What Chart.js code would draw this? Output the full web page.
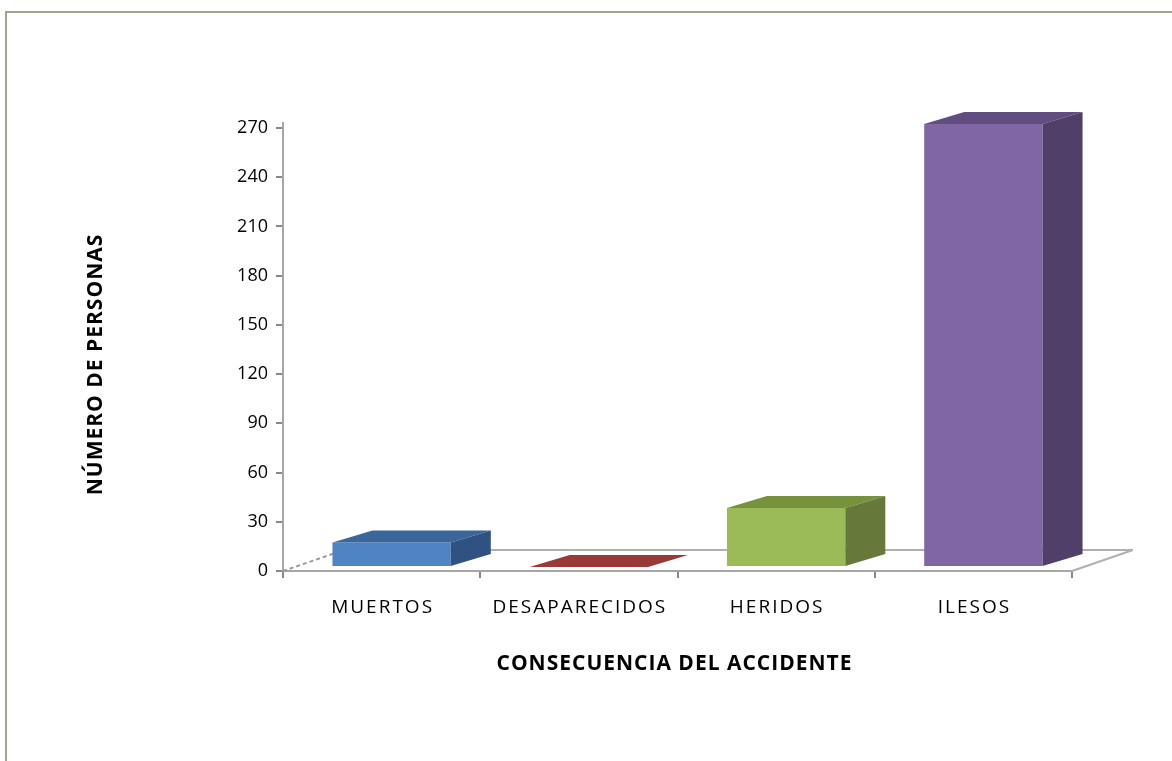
<!DOCTYPE html>
<html>
<head>
<meta charset="utf-8">
<script src="https://cdn.jsdelivr.net/npm/chart.js@4"></script>
<style>
   body { margin: 0; background: #fff; }
   #frame {
      position: absolute; left: 5px; top: 11px; right: -10px; bottom: -10px;
      border-left: 2px solid #a9a18b; border-top: 2px solid #a9a18b;
   }
   #chart { position: absolute; left: 0; top: 0; }
</style>
</head>
<body>
<div id="frame"></div>
<canvas id="chart" width="1172" height="761"></canvas>
<script>
const categories = ['MUERTOS', 'DESAPARECIDOS', 'HERIDOS', 'ILESOS'];
const personas = [15, 0, 36, 270];
const yMax = 270;
const yStep = 30;

const frontColors = ['#4f84c4', '#c0504d', '#9bbb59', '#8066a4'];
const topColors = ['#3b669c', '#973a38', '#76923c', '#624d80'];
const sideColors = ['#2f5282', '#7a2d2b', '#66793a', '#503f69'];

// fake 3d: depth of the bars and of the floor
const DX = 40, DY = -12;
const FLOOR_DX = 61, FLOOR_DY = -21;
const SHIFT_X = 10, SHIFT_Y = -4;

// category axis with the wide letter spacing of the original labels
class SpacedCategory extends Chart.CategoryScale {
   drawLabels(area) {
      this.ctx.save();
      this.ctx.letterSpacing = '2px';
      this.ctx.translate(1, 0);
      super.drawLabels(area);
      this.ctx.restore();
   }
   drawTitle() {
      this.ctx.save();
      this.ctx.letterSpacing = '1px';
      this.ctx.translate(-3, 0);
      super.drawTitle();
      this.ctx.restore();
   }
}
SpacedCategory.id = 'spacedCategory';
SpacedCategory.defaults = Chart.CategoryScale.defaults;

class ShiftedLinear extends Chart.LinearScale {
   drawTitle() {
      this.ctx.save();
      this.ctx.letterSpacing = '1px';
      this.ctx.translate(0, 15);
      super.drawTitle();
      this.ctx.restore();
   }
}
ShiftedLinear.id = 'shiftedLinear';
ShiftedLinear.defaults = Chart.LinearScale.defaults;

Chart.register(SpacedCategory, ShiftedLinear);

const bar3d = {
   id: 'bar3d',
   beforeDatasetsDraw(chart) {
      const { ctx, scales: { x, y } } = chart;
      const y0 = y.getPixelForValue(0);

      ctx.save();
      ctx.strokeStyle = '#a6a6a6';
      ctx.lineWidth = 2;
      ctx.beginPath();
      ctx.moveTo(x.left, y.top);
      ctx.lineTo(x.left, y.top - 6);
      ctx.stroke();
      ctx.strokeStyle = '#b0b0b0';
      ctx.beginPath();
      ctx.moveTo(x.left + FLOOR_DX, y0 + FLOOR_DY);
      ctx.lineTo(x.right + FLOOR_DX, y0 + FLOOR_DY);
      ctx.moveTo(x.right, y0);
      ctx.lineTo(x.right + FLOOR_DX, y0 + FLOOR_DY);
      ctx.stroke();
      ctx.strokeStyle = '#999';
      ctx.setLineDash([4, 3]);
      ctx.beginPath();
      ctx.moveTo(x.left, y0);
      ctx.lineTo(x.left + FLOOR_DX, y0 + FLOOR_DY);
      ctx.stroke();
      ctx.restore();

      ctx.save();
      ctx.translate(SHIFT_X, SHIFT_Y);
   },
   afterDatasetsDraw(chart) {
      const ctx = chart.ctx;
      chart.getDatasetMeta(0).data.forEach((bar, i) => {
         const l = bar.x - bar.width / 2;
         const r = bar.x + bar.width / 2;
         const t = bar.y;
         const b = bar.base;

         ctx.fillStyle = topColors[i];
         ctx.beginPath();
         ctx.moveTo(l, t);
         ctx.lineTo(l + DX, t + DY);
         ctx.lineTo(r + DX, t + DY);
         ctx.lineTo(r, t);
         ctx.closePath();
         ctx.fill();

         ctx.fillStyle = sideColors[i];
         ctx.beginPath();
         ctx.moveTo(r, t);
         ctx.lineTo(r + DX, t + DY);
         ctx.lineTo(r + DX, b + DY);
         ctx.lineTo(r, b);
         ctx.closePath();
         ctx.fill();
      });
      ctx.restore();
   }
};

const font = 'Open Sans';

new Chart(document.getElementById('chart').getContext('2d'), {
   type: 'bar',
   data: {
      labels: categories,
      datasets: [{
         data: personas,
         backgroundColor: frontColors,
         borderWidth: 0,
         categoryPercentage: 1,
         barPercentage: 0.6
      }]
   },
   options: {
      responsive: false,
      animation: false,
      events: [],
      layout: { padding: { left: 70, right: 100, top: 128, bottom: 80 } },
      plugins: {
         legend: { display: false },
         tooltip: { enabled: false }
      },
      scales: {
         x: {
            type: 'spacedCategory',
            grid: { offset: true, drawOnChartArea: false, tickLength: 7, color: '#888', lineWidth: 2 },
            border: { color: '#a6a6a6', width: 2 },
            ticks: { color: '#000', padding: 18, font: { family: font, size: 19 } },
            title: {
               display: true,
               text: 'CONSECUENCIA DEL ACCIDENTE',
               color: '#000',
               font: { family: font, size: 21, weight: 'bold' },
               padding: { bottom: 4.5 }
            },
            afterFit: s => { s.height = 110; }
         },
         y: {
            type: 'shiftedLinear',
            min: 0,
            max: yMax,
            grid: { drawOnChartArea: false, tickLength: 7, color: '#888', lineWidth: 2 },
            border: { color: '#a6a6a6', width: 2 },
            ticks: { stepSize: yStep, color: '#000', padding: 8, font: { family: font, size: 18 } },
            title: {
               display: true,
               text: 'NÚMERO DE PERSONAS',
               color: '#000',
               font: { family: font, size: 21, weight: 'bold' },
               padding: { top: 13 }
            },
            afterFit: s => { s.width = 213; }
         }
      }
   },
   plugins: [bar3d]
});
</script>
</body>
</html>
